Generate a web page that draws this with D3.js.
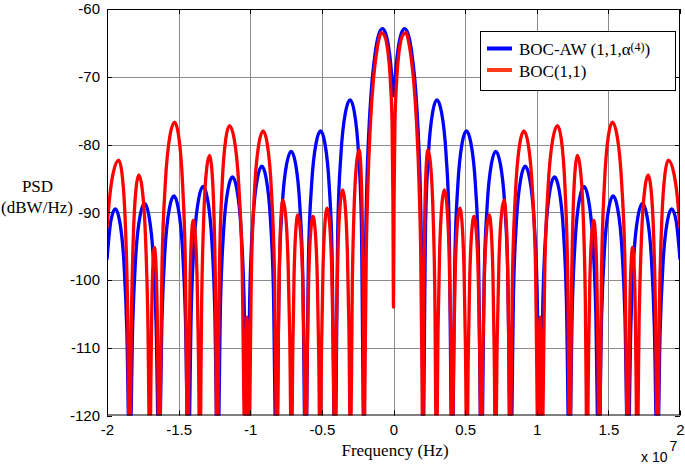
<!DOCTYPE html>
<html><head><meta charset="utf-8">
<script src="https://cdn.jsdelivr.net/npm/d3@7"></script>
<style>body{margin:0;background:#fff}</style>
</head><body>
<svg id="c" width="685" height="466"></svg>
<script>
// ---- data (frequency in units of 1e7 Hz, PSD in dBW/Hz) ----
const xTicks = [-2, -1.5, -1, -0.5, 0, 0.5, 1, 1.5, 2];
const xTickLabels = ["-2", "-1.5", "-1", "-0.5", "0", "0.5", "1", "1.5", "2"];
const yTicks = [-60, -70, -80, -90, -100, -110, -120];
const yTickLabels = ["-60", "-70", "-80", "-90", "-100", "-110", "-120"];
const seriesNames = ["BOC-AW (1,1,\u03b1", "BOC(1,1)"];

const blueSeries = [
[-2.0,-97],[-1.9732,-91.3],[-1.942,-89.5],[-1.9118,-91.3],[-1.8816,-97.5],[-1.8615,-107.5],[-1.8414,-128],
[-1.8207,-106.7],[-1.8,-96.7],[-1.769,-90.5],[-1.738,-88.7],[-1.7076,-90.5],[-1.6772,-96.7],[-1.657,-106.7],[-1.6368,-128],
[-1.616,-105.6],[-1.5953,-95.6],[-1.5641,-89.4],[-1.533,-87.6],[-1.5028,-89.4],[-1.4725,-95.6],[-1.4524,-105.6],[-1.4322,-128],
[-1.4116,-104.2],[-1.3909,-94.2],[-1.36,-88],[-1.329,-86.2],[-1.2986,-88],[-1.2682,-94.2],[-1.2479,-104.2],[-1.2276,-128],
[-1.2069,-102.8],[-1.1862,-92.8],[-1.1551,-86.6],[-1.124,-84.8],[-1.0937,-86.6],[-1.0634,-92.8],[-1.0432,-102.8],[-1.023,-128],
[-1.0022,-101.2],[-0.9814,-91.2],[-0.9502,-85],[-0.919,-83.2],[-0.8888,-85],[-0.8586,-91.2],[-0.8385,-101.2],[-0.8184,-128],
[-0.7975,-99],[-0.7766,-89],[-0.7453,-82.8],[-0.714,-81],[-0.6839,-82.8],[-0.6539,-89],[-0.6338,-99],[-0.6138,-128],
[-0.5928,-96],[-0.5719,-86],[-0.5404,-79.8],[-0.509,-78],[-0.4791,-79.8],[-0.4491,-86],[-0.4292,-96],[-0.4092,-128],
[-0.388,-91.4],[-0.3667,-81.4],[-0.3349,-75.2],[-0.303,-73.4],[-0.2735,-75.2],[-0.244,-81.4],[-0.2243,-91.4],[-0.2046,-128],
[-0.201,-106],[-0.195,-95],[-0.185,-85],[-0.172,-78],[-0.155,-72],[-0.135,-67.7],[-0.11,-64.3],[-0.078,-62.9],[-0.055,-63.6],[-0.035,-65.5],[-0.02,-68],[-0.01,-70.5],
[0,-72.8],
[0.01,-70.5],[0.02,-68],[0.035,-65.5],[0.055,-63.6],[0.078,-62.9],[0.11,-64.3],[0.135,-67.7],[0.155,-72],[0.172,-78],[0.185,-85],[0.195,-95],[0.201,-106],[0.2046,-128],
[0.2243,-91.4],[0.244,-81.4],[0.2735,-75.2],[0.303,-73.4],[0.3349,-75.2],[0.3667,-81.4],[0.388,-91.4],[0.4092,-128],
[0.4292,-96],[0.4491,-86],[0.4791,-79.8],[0.509,-78],[0.5404,-79.8],[0.5719,-86],[0.5928,-96],[0.6138,-128],
[0.6338,-99],[0.6539,-89],[0.6839,-82.8],[0.714,-81],[0.7453,-82.8],[0.7766,-89],[0.7975,-99],[0.8184,-128],
[0.8385,-101.2],[0.8586,-91.2],[0.8888,-85],[0.919,-83.2],[0.9502,-85],[0.9814,-91.2],[1.0022,-101.2],[1.023,-128],
[1.0432,-102.8],[1.0634,-92.8],[1.0937,-86.6],[1.124,-84.8],[1.1551,-86.6],[1.1862,-92.8],[1.2069,-102.8],[1.2276,-128],
[1.2479,-104.2],[1.2682,-94.2],[1.2986,-88],[1.329,-86.2],[1.36,-88],[1.3909,-94.2],[1.4116,-104.2],[1.4322,-128],
[1.4524,-105.6],[1.4725,-95.6],[1.5028,-89.4],[1.533,-87.6],[1.5641,-89.4],[1.5953,-95.6],[1.616,-105.6],[1.6368,-128],
[1.657,-106.7],[1.6772,-96.7],[1.7076,-90.5],[1.738,-88.7],[1.769,-90.5],[1.8,-96.7],[1.8207,-106.7],[1.8414,-128],
[1.8615,-107.5],[1.8816,-97.5],[1.9118,-91.3],[1.942,-89.5],[1.9732,-91.3],[2.0,-97]
];

const redSeries = [
[-2.0,-92.3],[-1.98,-87.5],[-1.9576,-84.3],[-1.918,-82.3],[-1.8952,-84.3],[-1.8724,-91.5],[-1.8572,-102.7],[-1.842,-128],
[-1.8292,-104.9],[-1.8164,-93.7],[-1.7972,-86.5],[-1.778,-84.5],[-1.7546,-86.5],[-1.7312,-93.7],[-1.7156,-104.9],[-1.70,-128],
[-1.6938,-115.6],[-1.6876,-104.4],[-1.6783,-97.2],[-1.669,-95.2],[-1.6594,-97.2],[-1.6498,-104.4],[-1.6434,-115.6],[-1.637,-128],
[-1.6152,-97.1],[-1.5934,-85.9],[-1.5607,-78.7],[-1.528,-76.7],[-1.5001,-78.7],[-1.4722,-85.9],[-1.4536,-97.1],[-1.435,-128],
[-1.4276,-111.6],[-1.4202,-100.4],[-1.4091,-93.2],[-1.398,-91.2],[-1.3842,-93.2],[-1.3704,-100.4],[-1.3612,-111.6],[-1.352,-128],
[-1.3384,-102],[-1.3248,-90.8],[-1.3044,-83.6],[-1.284,-81.6],[-1.2684,-83.6],[-1.2528,-90.8],[-1.2424,-102],[-1.232,-128],
[-1.2146,-97.6],[-1.1972,-86.4],[-1.1711,-79.2],[-1.145,-77.2],[-1.112,-79.2],[-1.079,-86.4],[-1.057,-97.6],[-1.035,-128],
[-1.030,-114],[-1.023,-105.5],[-1.016,-114],[-1.011,-128],
[-0.9916,-98.4],[-0.9712,-87.2],[-0.9406,-80],[-0.91,-78],[-0.8806,-80],[-0.8512,-87.2],[-0.8316,-98.4],[-0.812,-128],
[-0.804,-108.6],[-0.796,-97.4],[-0.784,-90.2],[-0.772,-88.2],[-0.754,-90.2],[-0.736,-97.4],[-0.724,-108.6],[-0.712,-128],
[-0.7032,-110.8],[-0.6944,-99.6],[-0.6812,-92.4],[-0.668,-90.4],[-0.6512,-92.4],[-0.6344,-99.6],[-0.6232,-110.8],[-0.612,-128],
[-0.602,-111],[-0.592,-99.8],[-0.577,-92.6],[-0.562,-90.6],[-0.547,-92.6],[-0.532,-99.8],[-0.522,-111],[-0.512,-128],
[-0.5022,-109.8],[-0.4924,-98.6],[-0.4777,-91.4],[-0.463,-89.4],[-0.4471,-91.4],[-0.4312,-98.6],[-0.4206,-109.8],[-0.41,-128],
[-0.399,-107.1],[-0.388,-95.9],[-0.3715,-88.7],[-0.355,-86.7],[-0.3385,-88.7],[-0.322,-95.9],[-0.311,-107.1],[-0.30,-128],
[-0.288,-101.2],[-0.276,-90],[-0.258,-82.8],[-0.24,-80.8],[-0.2294,-82.8],[-0.2188,-90],[-0.2117,-101.2],[-0.2046,-128],
[-0.2,-116],[-0.19,-96],[-0.18,-86.9],[-0.16,-76.5],[-0.14,-70.4],[-0.12,-66.7],[-0.1,-64.3],[-0.088,-63.5],[-0.07,-63.7],[-0.05,-64.8],[-0.03,-68.1],[-0.02,-71.3],[-0.01,-77],[-0.004,-88],
[0,-104],
[0.004,-88],[0.01,-77],[0.02,-71.3],[0.03,-68.1],[0.05,-64.8],[0.07,-63.7],[0.088,-63.5],[0.1,-64.3],[0.12,-66.7],[0.14,-70.4],[0.16,-76.5],[0.18,-86.9],[0.19,-96],[0.2,-116],[0.2046,-128],
[0.2117,-101.2],[0.2188,-90],[0.2294,-82.8],[0.24,-80.8],[0.258,-82.8],[0.276,-90],[0.288,-101.2],[0.30,-128],
[0.311,-107.1],[0.322,-95.9],[0.3385,-88.7],[0.355,-86.7],[0.3715,-88.7],[0.388,-95.9],[0.399,-107.1],[0.41,-128],
[0.4206,-109.8],[0.4312,-98.6],[0.4471,-91.4],[0.463,-89.4],[0.4777,-91.4],[0.4924,-98.6],[0.5022,-109.8],[0.512,-128],
[0.522,-111],[0.532,-99.8],[0.547,-92.6],[0.562,-90.6],[0.577,-92.6],[0.592,-99.8],[0.602,-111],[0.612,-128],
[0.6232,-110.8],[0.6344,-99.6],[0.6512,-92.4],[0.668,-90.4],[0.6812,-92.4],[0.6944,-99.6],[0.7032,-110.8],[0.712,-128],
[0.724,-108.6],[0.736,-97.4],[0.754,-90.2],[0.772,-88.2],[0.784,-90.2],[0.796,-97.4],[0.804,-108.6],[0.812,-128],
[0.8316,-98.4],[0.8512,-87.2],[0.8806,-80],[0.91,-78],[0.9406,-80],[0.9712,-87.2],[0.9916,-98.4],[1.011,-128],
[1.016,-114],[1.023,-105.5],[1.030,-114],[1.035,-128],
[1.057,-97.6],[1.079,-86.4],[1.112,-79.2],[1.145,-77.2],[1.1711,-79.2],[1.1972,-86.4],[1.2146,-97.6],[1.232,-128],
[1.2424,-102],[1.2528,-90.8],[1.2684,-83.6],[1.284,-81.6],[1.3044,-83.6],[1.3248,-90.8],[1.3384,-102],[1.352,-128],
[1.3612,-111.6],[1.3704,-100.4],[1.3842,-93.2],[1.398,-91.2],[1.4091,-93.2],[1.4202,-100.4],[1.4276,-111.6],[1.435,-128],
[1.4536,-97.1],[1.4722,-85.9],[1.5001,-78.7],[1.528,-76.7],[1.5607,-78.7],[1.5934,-85.9],[1.6152,-97.1],[1.637,-128],
[1.6434,-115.6],[1.6498,-104.4],[1.6594,-97.2],[1.669,-95.2],[1.6783,-97.2],[1.6876,-104.4],[1.6938,-115.6],[1.70,-128],
[1.7156,-104.9],[1.7312,-93.7],[1.7546,-86.5],[1.778,-84.5],[1.7972,-86.5],[1.8164,-93.7],[1.8292,-104.9],[1.842,-128],
[1.8572,-102.7],[1.8724,-91.5],[1.8952,-84.3],[1.918,-82.3],[1.9576,-84.3],[1.98,-87.5],[2.0,-92.3]
];

// ---- layout ----
const L = 107, R = 680, T = 9, B = 415.5;
const SERIF = "'Liberation Serif','Times New Roman',serif";
const SANS = "'Liberation Sans',Arial,sans-serif";
const svg = d3.select("#c");
const x = d3.scaleLinear().domain([-2, 2]).range([L, R]);
const y = d3.scaleLinear().domain([-120, -60]).range([B, T]);

svg.append("rect").attr("width", 685).attr("height", 466).attr("fill", "#fff");

// grid
const grid = svg.append("g").attr("stroke", "#8c8c8c").attr("stroke-width", 1);
grid.selectAll(".gx").data(xTicks.slice(1, -1)).enter().append("line")
  .attr("x1", d => Math.round(x(d)) + 0.5).attr("x2", d => Math.round(x(d)) + 0.5)
  .attr("y1", T).attr("y2", B);
grid.selectAll(".gy").data(yTicks.slice(1, -1)).enter().append("line")
  .attr("y1", d => Math.round(y(d)) + 0.5).attr("y2", d => Math.round(y(d)) + 0.5)
  .attr("x1", L).attr("x2", R);

// curves
svg.append("clipPath").attr("id", "clip").append("rect")
  .attr("x", L).attr("y", T).attr("width", R - L).attr("height", B - T);
const line = d3.line().x(d => x(d[0])).y(d => y(d[1])).curve(d3.curveMonotoneX);
const plot = svg.append("g").attr("clip-path", "url(#clip)");
plot.append("path").datum(blueSeries).attr("d", line).attr("fill", "none")
  .attr("stroke", "#0000ff").attr("stroke-width", 3.3).attr("stroke-linejoin", "round");
plot.append("path").datum(redSeries).attr("d", line).attr("fill", "none")
  .attr("stroke", "#ff0000").attr("stroke-width", 3.3).attr("stroke-linejoin", "round");

// frame and inward ticks
svg.append("rect").attr("x", L + 0.5).attr("y", T + 0.5).attr("width", R - L - 1).attr("height", B - T - 1)
  .attr("fill", "none").attr("stroke", "#000").attr("stroke-width", 1);
const tk = svg.append("g").attr("stroke", "#000").attr("stroke-width", 1);
xTicks.forEach(d => {
  const px = Math.round(x(d)) + 0.5;
  tk.append("line").attr("x1", px).attr("x2", px).attr("y1", B).attr("y2", B - 5);
  tk.append("line").attr("x1", px).attr("x2", px).attr("y1", T).attr("y2", T + 5);
});
yTicks.forEach(d => {
  const py = Math.round(y(d)) + 0.5;
  tk.append("line").attr("y1", py).attr("y2", py).attr("x1", L).attr("x2", L + 5);
  tk.append("line").attr("y1", py).attr("y2", py).attr("x1", R).attr("x2", R - 5);
});

// axes labels through d3 axes
const xa = svg.append("g").attr("transform", `translate(0,${B})`)
  .call(d3.axisBottom(x).tickValues(xTicks).tickFormat((d, i) => xTickLabels[i]).tickSize(0).tickPadding(8.5));
const ya = svg.append("g").attr("transform", `translate(${L},0)`)
  .call(d3.axisLeft(y).tickValues(yTicks).tickFormat((d, i) => yTickLabels[i]).tickSize(0).tickPadding(7));
[xa, ya].forEach(a => {
  a.select(".domain").remove();
  a.selectAll("text").attr("font-family", SANS).attr("font-size", 15).attr("fill", "#000");
});

// axis titles
svg.append("text").attr("x", 395).attr("y", 456).attr("text-anchor", "middle")
  .attr("font-family", SERIF).attr("font-size", 17).text("Frequency (Hz)");
svg.append("text").attr("x", 37.5).attr("y", 192.3).attr("text-anchor", "middle")
  .attr("font-family", SERIF).attr("font-size", 17).text("PSD");
svg.append("text").attr("x", 37).attr("y", 212.5).attr("text-anchor", "middle")
  .attr("font-family", SERIF).attr("font-size", 17).text("(dBW/Hz)");
svg.append("text").attr("x", 641).attr("y", 462).attr("font-family", SANS).attr("font-size", 14).text("x 10");
svg.append("text").attr("x", 669.5).attr("y", 451).attr("font-family", SANS).attr("font-size", 14).text("7");

// legend
const lg = svg.append("g");
lg.append("rect").attr("x", 480.5).attr("y", 31.5).attr("width", 195).attr("height", 59)
  .attr("fill", "#fff").attr("stroke", "#000").attr("stroke-width", 1);
lg.append("line").attr("x1", 487).attr("x2", 512).attr("y1", 48.5).attr("y2", 48.5)
  .attr("stroke", "#0000ff").attr("stroke-width", 4);
lg.append("line").attr("x1", 487).attr("x2", 512).attr("y1", 70).attr("y2", 70)
  .attr("stroke", "#ff3a1a").attr("stroke-width", 4);
const t1 = lg.append("text").attr("x", 519).attr("y", 55).attr("font-family", SERIF).attr("font-size", 17);
t1.append("tspan").text(seriesNames[0]);
t1.append("tspan").attr("font-size", 12).attr("dy", -4.5).text("(4)");
t1.append("tspan").attr("font-size", 17).attr("dy", 4.5).text(")");
lg.append("text").attr("x", 519).attr("y", 76.5).attr("font-family", SERIF).attr("font-size", 17).text(seriesNames[1]);
</script>
</body></html>
